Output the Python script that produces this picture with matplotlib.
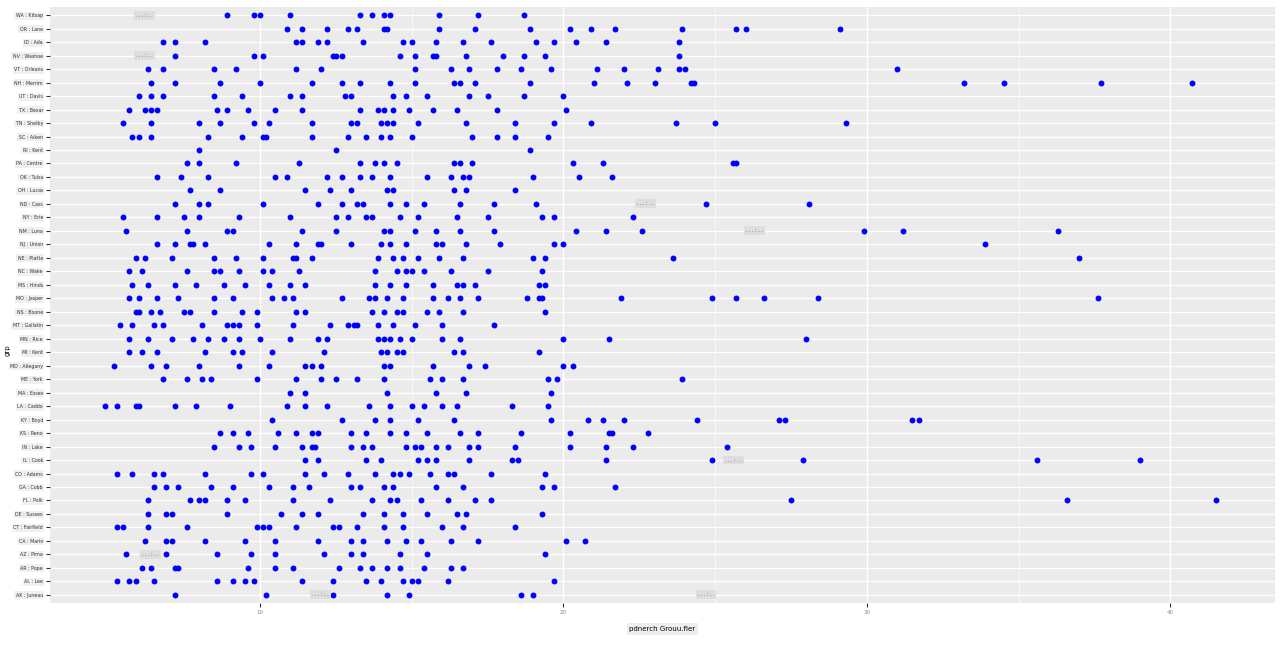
import matplotlib.pyplot as plt

# row labels, top to bottom
labels = ["WA : Kitsap", "OR : Lane", "ID : Ada", "NV : Washoe", "VT : Orleans", "NH : Merrim",
          "UT : Davis", "TX : Bexar", "TN : Shelby", "SC : Aiken", "RI : Kent", "PA : Centre",
          "OK : Tulsa", "OH : Lucas", "ND : Cass", "NY : Erie", "NM : Luna", "NJ : Union",
          "NE : Platte", "NC : Wake", "MS : Hinds", "MO : Jasper", "NS : Boone", "MT : Gallatin",
          "MN : Rice", "MI : Kent", "MD : Allegany", "ME : York", "MA : Essex", "LA : Caddo",
          "KY : Boyd", "KS : Reno", "IN : Lake", "IL : Cook", "CO : Adams", "GA : Cobb",
          "FL : Polk", "DE : Sussex", "CT : Fairfield", "CA : Marin", "AZ : Pima", "AR : Pope",
          "AL : Lee", "AK : Juneau"]

rows = [
    [8.9, 9.8, 10.0, 11.0, 13.3, 13.7, 14.1, 14.3, 15.9, 17.2, 18.7],
    [10.9, 11.4, 12.2, 12.9, 13.2, 14.1, 14.2, 15.9, 17.1, 18.9, 20.2, 20.9, 21.7, 23.9, 25.7, 26.0, 29.1],
    [6.8, 7.2, 8.2, 11.2, 11.4, 11.9, 12.2, 13.4, 14.7, 15.0, 15.8, 16.7, 17.6, 19.1, 19.7, 20.4, 21.4, 23.8],
    [7.2, 9.8, 10.1, 12.4, 12.5, 12.7, 14.6, 15.1, 15.7, 15.8, 16.8, 18.0, 18.7, 19.4, 23.8],
    [6.3, 6.8, 8.5, 9.2, 11.2, 12.0, 15.1, 16.3, 16.9, 17.8, 18.6, 19.6, 21.1, 22.0, 23.1, 23.8, 24.0, 31.0],
    [6.4, 7.2, 8.7, 10.0, 11.7, 12.7, 13.3, 14.3, 15.1, 16.4, 16.6, 17.1, 18.9, 21.0, 22.1, 23.0, 24.2, 24.3,
     33.2, 34.5, 37.7, 40.7],
    [6.0, 6.4, 6.8, 8.5, 9.4, 11.0, 11.4, 12.8, 13.0, 14.4, 14.8, 15.5, 16.9, 17.5, 18.7, 20.0],
    [5.7, 6.2, 6.4, 6.6, 8.6, 8.9, 9.6, 10.5, 11.4, 13.3, 13.9, 14.1, 14.4, 14.9, 15.7, 16.5, 17.8, 20.1],
    [5.5, 6.4, 8.0, 8.7, 9.8, 10.3, 11.7, 13.0, 13.2, 14.0, 14.2, 14.4, 15.2, 16.8, 18.4, 19.7, 20.9, 23.7,
     25.0, 29.3],
    [5.8, 6.0, 6.4, 8.3, 9.4, 10.1, 10.2, 11.7, 12.9, 13.5, 14.0, 14.3, 15.0, 17.0, 17.8, 18.4, 19.5],
    [8.0, 12.5, 18.9],
    [7.6, 8.0, 9.2, 11.3, 13.3, 13.8, 14.1, 14.5, 16.4, 16.6, 17.0, 20.3, 21.3, 25.6, 25.7],
    [6.6, 7.4, 8.3, 10.5, 10.9, 12.2, 12.7, 13.3, 13.7, 14.3, 15.5, 16.3, 16.7, 16.9, 19.0, 20.5, 21.6],
    [7.7, 8.7, 11.5, 12.3, 13.0, 14.2, 14.4, 16.4, 16.8, 18.4],
    [7.2, 8.0, 8.3, 10.1, 11.9, 12.7, 13.2, 13.4, 14.3, 14.8, 15.4, 16.6, 17.7, 19.1, 24.7, 28.1],
    [5.5, 6.6, 7.5, 8.0, 9.3, 11.0, 12.5, 12.9, 13.5, 13.7, 14.6, 15.2, 16.5, 17.5, 19.3, 19.7, 22.3],
    [5.6, 7.6, 8.9, 9.1, 11.4, 12.5, 14.1, 14.3, 15.1, 15.8, 16.6, 17.7, 20.4, 21.4, 22.6, 29.9, 31.2, 36.3],
    [6.6, 7.2, 7.7, 7.8, 8.2, 10.3, 11.2, 11.9, 12.0, 13.0, 14.0, 14.3, 14.8, 15.8, 16.0, 16.8, 17.9, 19.7,
     20.0, 33.9],
    [5.9, 6.2, 7.1, 8.5, 9.2, 10.1, 11.1, 11.2, 11.7, 13.9, 14.4, 14.7, 15.2, 15.9, 16.7, 19.0, 19.4, 23.6, 37.0],
    [5.7, 6.1, 7.6, 8.5, 8.7, 9.3, 10.1, 10.4, 11.3, 13.8, 14.5, 14.8, 15.0, 15.4, 16.3, 17.5, 19.3],
    [5.8, 6.3, 7.2, 7.9, 8.8, 9.5, 10.3, 11.0, 11.5, 13.8, 14.3, 14.8, 15.7, 16.5, 16.7, 17.1, 19.2, 19.4],
    [5.7, 6.0, 6.6, 7.3, 8.5, 9.1, 10.4, 10.8, 11.1, 12.7, 13.6, 13.8, 14.2, 14.7, 15.7, 16.2, 16.6, 17.2,
     18.8, 19.2, 19.3, 21.9, 24.9, 25.7, 26.6, 28.4, 37.6],
    [5.9, 6.0, 6.4, 6.7, 7.5, 7.7, 8.5, 9.4, 9.9, 11.2, 11.5, 13.7, 14.1, 14.5, 14.7, 15.5, 15.9, 16.7, 19.4],
    [5.4, 5.8, 6.5, 6.8, 8.1, 8.9, 9.1, 9.3, 9.9, 11.1, 12.3, 12.9, 13.1, 13.2, 13.9, 14.4, 15.1, 16.0, 17.7],
    [5.7, 6.3, 7.1, 7.8, 8.3, 8.8, 9.3, 10.0, 11.0, 11.9, 12.2, 13.9, 14.1, 14.3, 14.6, 15.0, 16.0, 16.6,
     20.0, 21.5, 28.0],
    [5.7, 6.1, 6.6, 8.2, 9.1, 9.4, 10.4, 12.1, 14.0, 14.2, 14.5, 14.7, 16.4, 16.7, 19.2],
    [5.2, 6.4, 6.9, 8.0, 9.3, 10.3, 11.5, 11.7, 12.0, 14.1, 14.3, 15.7, 16.9, 17.4, 20.0, 20.3],
    [6.8, 7.6, 8.1, 8.4, 9.9, 11.2, 12.0, 12.5, 13.2, 14.1, 15.6, 16.0, 16.7, 19.5, 19.8, 23.9],
    [11.0, 11.5, 14.2, 15.8, 16.8, 19.6],
    [4.9, 5.3, 5.9, 6.0, 7.2, 7.9, 9.0, 10.9, 11.5, 12.2, 13.6, 14.3, 15.0, 15.4, 16.0, 16.5, 18.3, 19.5],
    [10.4, 12.7, 13.8, 14.3, 15.2, 16.4, 19.6, 20.8, 21.3, 22.0, 24.4, 27.1, 27.3, 31.5, 31.7],
    [8.7, 9.1, 9.6, 10.6, 11.2, 11.7, 11.9, 13.0, 13.5, 14.3, 14.8, 15.5, 16.6, 17.2, 18.6, 20.2, 21.5, 21.6, 22.8],
    [8.5, 9.3, 9.7, 10.5, 11.4, 11.7, 11.8, 13.0, 13.4, 13.7, 14.8, 15.1, 15.3, 15.8, 16.2, 16.9, 17.2, 18.4,
     20.2, 21.4, 22.3, 25.4],
    [11.5, 11.9, 13.5, 14.0, 15.2, 15.5, 15.8, 16.9, 18.3, 18.5, 21.4, 24.9, 27.9, 35.6, 39.0],
    [5.3, 5.8, 6.5, 6.8, 8.2, 9.7, 10.1, 11.5, 12.1, 12.9, 13.8, 14.4, 14.6, 14.9, 15.6, 16.2, 16.4, 17.6, 19.4],
    [6.5, 6.9, 7.3, 8.4, 9.1, 10.3, 11.1, 11.6, 13.0, 13.3, 14.1, 14.4, 15.8, 16.7, 19.3, 19.7, 21.7],
    [6.3, 7.7, 8.0, 8.2, 8.9, 9.5, 11.1, 12.3, 13.7, 14.3, 14.5, 15.3, 16.2, 17.1, 17.6, 27.5, 36.6, 41.5],
    [6.3, 6.9, 7.1, 8.9, 10.7, 11.4, 11.9, 13.4, 14.1, 14.7, 15.5, 16.5, 16.8, 19.3],
    [5.3, 5.5, 6.3, 7.6, 9.9, 10.1, 10.3, 11.2, 12.4, 12.6, 13.2, 14.1, 14.7, 16.0, 16.7, 18.4],
    [6.2, 6.9, 7.1, 8.2, 9.5, 10.5, 11.9, 13.0, 13.4, 14.2, 14.8, 15.3, 16.3, 17.2, 20.1, 20.7],
    [5.6, 6.9, 8.6, 9.7, 10.5, 12.1, 13.0, 13.4, 14.6, 15.5, 19.4],
    [6.1, 6.4, 7.2, 7.3, 9.6, 10.5, 11.1, 12.6, 13.3, 13.7, 14.2, 14.6, 15.4, 16.3, 16.7],
    [5.3, 5.7, 5.9, 6.5, 8.6, 9.1, 9.5, 9.8, 11.4, 12.4, 13.5, 14.0, 14.7, 15.0, 15.2, 16.2, 19.7],
    [7.2, 10.2, 12.4, 14.2, 14.9, 18.6, 19.0],
]

# small grey label boxes sitting on the panel: (x value, row index)
note_x = [6.2, 6.2, 22.7, 26.3, 25.6, 6.4, 12.0, 24.7]
note_row = [0, 3, 14, 16, 33, 40, 43, 43]

xticks = [10, 20, 30, 40]

fig = plt.figure(figsize=(12.8, 6.49), dpi=100)
ax = fig.add_axes([0.039, 0.071, 0.957, 0.918])
ax.set_facecolor("#ebebeb")

n = len(labels)
for i, xs in enumerate(rows):
    ax.scatter(xs, [n - 1 - i] * len(xs), s=18, color="blue", zorder=3, linewidths=0)

for x, r in zip(note_x, note_row):
    ax.text(x, n - 1 - r, ". . . : . .", fontsize=3.5, ha="center", va="center", color="#444444",
            bbox=dict(boxstyle="square,pad=0.4", fc="#dedede", ec="none"), zorder=4)

ax.set_xlim(3.08, 43.44)
ax.set_ylim(-0.6, n - 0.4)
ax.set_xticks(xticks)
ax.set_xticklabels([str(t) for t in xticks], fontsize=4, color="#888888")
ax.set_xticks([15, 25, 35], minor=True)
ax.set_yticks(range(n))
ax.set_yticklabels(labels[::-1], fontsize=3.4, color="#333333")
for t in ax.get_yticklabels():
    t.set_bbox(dict(boxstyle="square,pad=0.3", fc="#f0f0f0", ec="none"))

ax.grid(True, which="major", color="white", linewidth=1.0)
ax.grid(True, which="minor", axis="x", color="white", linewidth=0.5)
ax.set_axisbelow(True)
ax.tick_params(axis="both", which="major", length=3, width=0.8, color="#333333", pad=2)
ax.tick_params(axis="x", which="minor", length=0)
for s in ax.spines.values():
    s.set_visible(False)

ax.set_xlabel("pdnerch Grouu.fler", fontsize=5, labelpad=8,
              bbox=dict(boxstyle="square,pad=0.4", fc="#eeeeee", ec="none"))
fig.text(0.006, 0.46, "grp", fontsize=5, rotation=90, ha="center", va="center")

fig.savefig("out.png", dpi=100)
